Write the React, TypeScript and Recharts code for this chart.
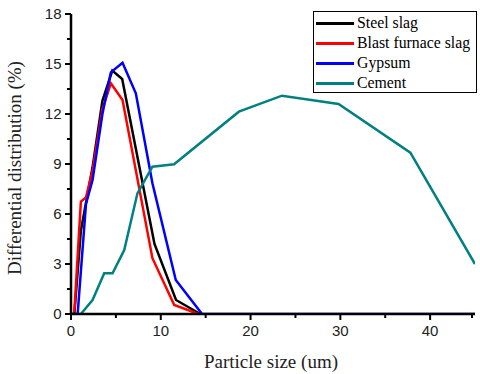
import { LineChart, Line, XAxis, YAxis } from 'recharts';

// particle size (um) / differential distribution (%)
const steelSlag = [
  { x: 0.37, y: 0 },
  { x: 1.1, y: 5.0 },
  { x: 2.4, y: 8.8 },
  { x: 3.5, y: 12.8 },
  { x: 4.6, y: 14.6 },
  { x: 5.7, y: 14.1 },
  { x: 9.3, y: 4.2 },
  { x: 11.7, y: 0.84 },
  { x: 14.4, y: 0 },
];

const blastFurnaceSlag = [
  { x: 0.37, y: 0.1 },
  { x: 1.1, y: 6.74 },
  { x: 1.67, y: 7.0 },
  { x: 2.4, y: 8.6 },
  { x: 3.5, y: 12.3 },
  { x: 4.44, y: 13.84 },
  { x: 5.74, y: 12.84 },
  { x: 9.07, y: 3.35 },
  { x: 11.5, y: 0.54 },
  { x: 14.2, y: 0 },
];

const gypsum = [
  { x: 0, y: 0 },
  { x: 0.74, y: 0 },
  { x: 1.67, y: 6.6 },
  { x: 2.4, y: 8.04 },
  { x: 3.5, y: 12.0 },
  { x: 4.44, y: 14.5 },
  { x: 5.74, y: 15.08 },
  { x: 7.22, y: 13.24 },
  { x: 9.07, y: 7.84 },
  { x: 11.67, y: 2.04 },
  { x: 14.6, y: 0 },
  { x: 45, y: 0 },
];

const cement = [
  { x: 0, y: 0 },
  { x: 1.1, y: 0 },
  { x: 2.4, y: 0.84 },
  { x: 3.7, y: 2.44 },
  { x: 4.63, y: 2.44 },
  { x: 5.93, y: 3.84 },
  { x: 7.4, y: 7.24 },
  { x: 9.07, y: 8.84 },
  { x: 11.48, y: 8.98 },
  { x: 18.7, y: 12.14 },
  { x: 23.5, y: 13.1 },
  { x: 29.8, y: 12.6 },
  { x: 37.8, y: 9.68 },
  { x: 45, y: 3.0 },
];

const xTicks = [0, 5, 10, 15, 20, 25, 30, 35, 40, 45];
const xLabels = [0, 10, 20, 30, 40];
const yTicks = [0, 1.5, 3, 4.5, 6, 7.5, 9, 10.5, 12, 13.5, 15, 16.5, 18];
const yLabels = [0, 3, 6, 9, 12, 15, 18];

const series = [
  { name: 'Steel slag', data: steelSlag, color: '#000000' },
  { name: 'Blast furnace slag', data: blastFurnaceSlag, color: '#ff0000' },
  { name: 'Gypsum', data: gypsum, color: '#0000ff' },
  { name: 'Cement', data: cement, color: '#008080' },
];

const serif = '"Liberation Serif", "Times New Roman", Times, serif';
const sans = '"Liberation Sans", Arial, sans-serif';

const XTick = (props: any) => {
  const { x, y, payload } = props;
  const major = xLabels.includes(payload.value);
  return (
    <g>
      <line x1={x} y1={y} x2={x} y2={y + (major ? 6 : 4)} stroke="#000" strokeWidth={2} />
      {major && (
        <text x={x} y={y + 22} textAnchor="middle" fontSize={15} fontFamily={sans} fill="#222">
          {payload.value}
        </text>
      )}
    </g>
  );
};

const YTick = (props: any) => {
  const { x, y, payload } = props;
  const major = yLabels.includes(payload.value);
  return (
    <g>
      <line x1={x} y1={y} x2={x - (major ? 6 : 4)} y2={y} stroke="#000" strokeWidth={2} />
      {major && (
        <text x={x - 9.5} y={y + 5} textAnchor="end" fontSize={15} fontFamily={sans} fill="#222">
          {payload.value}
        </text>
      )}
    </g>
  );
};

const LegendBox = () => (
  <div
    style={{
      position: 'absolute',
      left: 313,
      top: 11,
      width: 164,
      height: 82,
      border: '1px solid #000',
      background: '#fff',
      boxSizing: 'border-box',
      padding: '1px 0 0 2px',
      fontFamily: serif,
      fontSize: 15.8,
      color: '#000',
    }}
  >
    {series.map(s => (
      <div key={s.name} style={{ display: 'flex', alignItems: 'center', height: 20 }}>
        <span style={{ display: 'inline-block', width: 38, height: 3, background: s.color, marginRight: 3 }} />
        <span>{s.name}</span>
      </div>
    ))}
  </div>
);

export default function App() {
  return (
    <div style={{ position: 'absolute', left: 0, top: 0, width: 480, height: 374, background: '#fff' }}>
      <LineChart width={480} height={374} margin={{ top: 14, right: 5, left: 0, bottom: 0 }}>
        <XAxis
          type="number"
          dataKey="x"
          domain={[0, 45]}
          ticks={xTicks}
          allowDataOverflow
          height={60}
          tickSize={0}
          tickMargin={0}
          tick={<XTick />}
          axisLine={{ stroke: '#000', strokeWidth: 2.5 }}
          label={(p: any) => {
            const vb = p.viewBox;
            return (
              <text x={vb.x + vb.width / 2 - 2} y={vb.y + 54} textAnchor="middle" fontSize={19} fontFamily={serif} fill="#222">
                Particle size (um)
              </text>
            );
          }}
        />
        <YAxis
          type="number"
          dataKey="y"
          domain={[0, 18]}
          ticks={yTicks}
          allowDataOverflow
          width={71}
          tickSize={0}
          tickMargin={0}
          tick={<YTick />}
          axisLine={{ stroke: '#000', strokeWidth: 2.5 }}
          label={(p: any) => {
            const vb = p.viewBox;
            const cx = vb.x + 14;
            const cy = vb.y + vb.height / 2 + 4;
            return (
              <text
                x={cx}
                y={cy}
                transform={`rotate(-90 ${cx} ${cy})`}
                textAnchor="middle"
                dominantBaseline="central"
                fontSize={19}
                fontFamily={serif}
                fill="#222"
              >
                Differential distribution (%)
              </text>
            );
          }}
        />
        {series.map(s => (
          <Line
            key={s.name}
            name={s.name}
            data={s.data}
            dataKey="y"
            type="linear"
            stroke={s.color}
            strokeWidth={2.5}
            dot={false}
            activeDot={false}
            isAnimationActive={false}
          />
        ))}
      </LineChart>
      <LegendBox />
    </div>
  );
}
